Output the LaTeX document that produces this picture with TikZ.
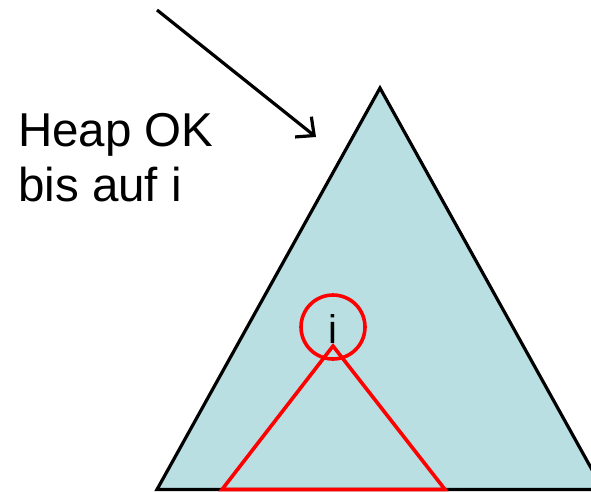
\documentclass[tikz,border=0pt]{standalone}
\usepackage{fontspec}
\setmainfont{Liberation Sans}
\usetikzlibrary{arrows.meta}
\definecolor{heapfill}{RGB}{185,223,227}
\definecolor{heapred}{RGB}{255,0,0}
\tikzset{
  lbl/.style={font=\fontsize{47.5}{55}\selectfont, inner sep=0pt, anchor=base west},
  bigtri/.style={draw=black, fill=heapfill, line width=3.2pt, line join=miter},
  redtri/.style={draw=heapred, line width=3.6pt, line join=miter},
  ptr/.style={draw=black, line width=3.2pt, -{Straight Barb[length=14pt,width=26pt,line width=3.2pt]}}
}
\begin{document}
\begin{tikzpicture}[x=1pt,y=-1pt]
\useasboundingbox (0,0) rectangle (591,491);
\begin{scope}
\clip (0,0) rectangle (591,491);
\draw[bigtri] (380,88) -- (157,489.5) -- (603,489.5) -- cycle;
\draw[redtri] (333,346) -- (222,489.5) -- (445,489.5) -- cycle;
\end{scope}
\node[lbl] (t1) at (18,146) {Heap OK};
\node[lbl] (t2) at (18,201) {bis auf i};
\node[draw=heapred, line width=3.6pt, circle, minimum size=64pt, inner sep=0pt] (c) at (333,327) {};
\node[font=\fontsize{40}{40}\selectfont, inner sep=0pt, anchor=base] (i) at (333,343) {i};
\coordinate (a) at (157,10);
\coordinate (b) at (316,137);
\draw[ptr] (a) -- (b);
\end{tikzpicture}
\end{document}
